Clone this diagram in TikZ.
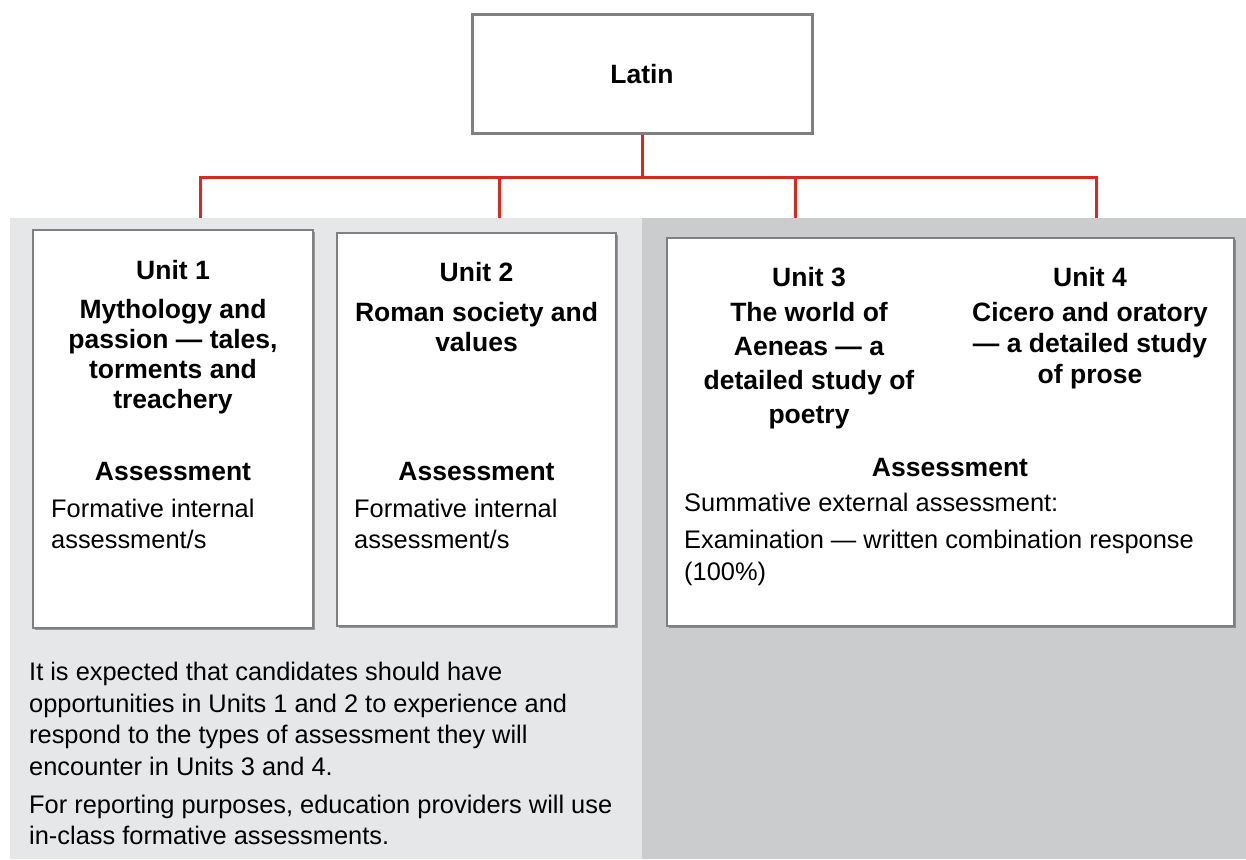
\documentclass[tikz,border=0pt]{standalone}
\usepackage{fontspec}
\setmainfont{Liberation Sans}
\usetikzlibrary{shadows}
\definecolor{linkred}{RGB}{218,41,30}
\definecolor{boxgray}{RGB}{128,128,130}
\definecolor{panelleft}{RGB}{230,231,232}
\definecolor{panelright}{RGB}{203,204,206}
\begin{document}
\begin{tikzpicture}[x=1pt,y=-1pt,
  redline/.style={draw=linkred,line width=3pt},
  unitbox/.style={draw=boxgray,line width=2.5pt,fill=white,inner sep=0pt,
    drop shadow={shadow xshift=2pt,shadow yshift=-2pt,opacity=0.5,fill=black!70}},
  titlebox/.style={draw=boxgray,line width=3pt,fill=white,inner sep=0pt},
  headtext/.style={inner sep=0pt,align=center,anchor=north,font=\fontsize{26.5}{#1}\selectfont\bfseries},
  headtext/.default=30,
  bodytext/.style={inner sep=0pt,align=left,anchor=north west,font=\fontsize{25.4}{#1}\selectfont},
  bodytext/.default=31,
  labeltext/.style={inner sep=0pt,anchor=base,font=\fontsize{26.5}{30}\selectfont\bfseries}]
\useasboundingbox (0,0) rectangle (1246,859);

% background panels
\fill[panelleft] (10,218) rectangle (642,859);
\fill[panelright] (642,218) rectangle (1246,859);

% top box
\node[titlebox,minimum width=340pt,minimum height=118pt] (latin) at (642,74)
  {\fontsize{26.5}{30}\selectfont\bfseries Latin};

% branch points
\coordinate (bar) at (642,177);
\coordinate (d1) at (200,218);
\coordinate (d2) at (499,218);
\coordinate (d3) at (795,218);
\coordinate (d4) at (1096,218);

\draw[redline] (latin.south) -- (bar);
\draw[redline,line join=miter] (d1) |- (bar) -| (d4);
\draw[redline] (d2) -- (d2 |- bar);
\draw[redline] (d3) -- (d3 |- bar);

% unit boxes
\node[unitbox,minimum width=280pt,minimum height=398pt] (u1) at (173,429) {};
\node[unitbox,minimum width=279pt,minimum height=393pt] (u2) at (476.5,429.5) {};
\node[unitbox,minimum width=567pt,minimum height=388pt] (u34) at (950.5,432) {};

% Unit 1
\node[headtext] (u1head) at (173,260.3)
  {Unit 1\\[9pt]Mythology and\\passion — tales,\\torments and\\treachery};
\node[labeltext] (u1assess) at (173,480) {Assessment};
\node[bodytext] (u1body) at (51,498.5) {Formative internal\\assessment/s};

% Unit 2
\node[headtext=30.3] (u2head) at (476.5,261.7)
  {Unit 2\\[10pt]Roman society and\\values};
\node[labeltext] (u2assess) at (476.5,480) {Assessment};
\node[bodytext] (u2body) at (354,498.5) {Formative internal\\assessment/s};

% Units 3 and 4
\node[headtext=34] (u3head) at (809,266.7)
  {Unit 3\\[1pt]The world of\\Aeneas — a\\detailed study of\\poetry};
\node[headtext=31.2] (u4head) at (1090,266.7)
  {Unit 4\\[4pt]Cicero and oratory\\— a detailed study\\of prose};
\node[labeltext] (u34assess) at (950,476.7) {Assessment};
\node[bodytext=32] (u34body) at (684,492.8)
  {Summative external assessment:\\[5pt]Examination — written combination response\\(100\%)};

% note under Units 1 and 2
\node[bodytext=31.6] (note) at (29,661.8)
  {It is expected that candidates should have\\
   opportunities in Units 1 and 2 to experience and\\
   respond to the types of assessment they will\\
   encounter in Units 3 and 4.\\[6.4pt]
   For reporting purposes, education providers will use\\
   in-class formative assessments.};
\end{tikzpicture}
\end{document}
